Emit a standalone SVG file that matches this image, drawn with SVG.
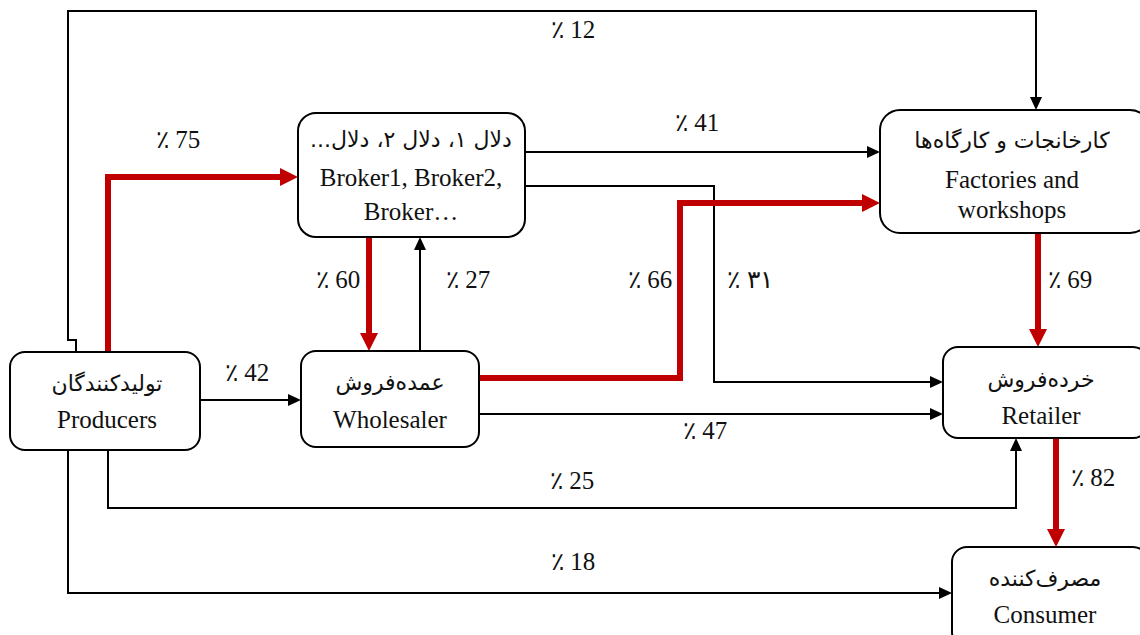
<svg xmlns="http://www.w3.org/2000/svg" width="1140" height="635" viewBox="0 0 1140 635">
<defs>
<style>
.box{fill:#fff;stroke:#000;stroke-width:2}
.fa{font-family:'DejaVu Sans',sans-serif;font-size:22px;fill:#111;text-anchor:middle}
.en{font-family:'Times New Roman','Liberation Serif',Tinos,'Noto Serif','DejaVu Serif',serif;font-size:25px;fill:#111;text-anchor:middle}
.k{fill:none;stroke:#000;stroke-width:2}
.r{fill:none;stroke:#c00000;stroke-width:6}
</style>
<marker id="ak" markerUnits="userSpaceOnUse" markerWidth="13" markerHeight="12" refX="0" refY="6" orient="auto"><path d="M0,0 L13,6 L0,12 z" fill="#000"/></marker>
<marker id="ar" markerUnits="userSpaceOnUse" markerWidth="18" markerHeight="18" refX="0" refY="9" orient="auto"><path d="M0,0 L18,9 L0,18 z" fill="#c00000"/></marker>
</defs>
<g id="connectors">
<path class="k" d="M76,352 V340 H68 V11 H1036 V97" marker-end="url(#ak)"/>
<path class="r" d="M108,352 V177 H280" marker-end="url(#ar)"/>
<path class="r" d="M369,237 V333" marker-end="url(#ar)"/>
<path class="k" d="M420,351 V250" marker-end="url(#ak)"/>
<path class="k" d="M200,400 H288" marker-end="url(#ak)"/>
<path class="k" d="M525,152 H867" marker-end="url(#ak)"/>
<path class="k" d="M525,186 H714 V382 H930" marker-end="url(#ak)"/>
<path class="r" d="M479,378 H680 V203 H862" marker-end="url(#ar)"/>
<path class="k" d="M479,414 H930" marker-end="url(#ak)"/>
<path class="k" d="M108,450 V508 H1016 V451" marker-end="url(#ak)"/>
<path class="k" d="M68,450 V593 H939" marker-end="url(#ak)"/>
<path class="r" d="M1038,233 V329" marker-end="url(#ar)"/>
<path class="r" d="M1056,438 V529" marker-end="url(#ar)"/>
</g>
<g id="labels" direction="ltr">
<text class="en" x="573" y="38">٪ 12</text>
<text class="en" x="178" y="148">٪ 75</text>
<text class="en" x="697" y="131">٪ 41</text>
<text class="en" x="338" y="288">٪ 60</text>
<text class="en" x="468" y="288">٪ 27</text>
<text class="en" x="650" y="288">٪ 66</text>
<text class="en" x="750" y="288">٪ ۳۱</text>
<text class="en" x="1070" y="288">٪ 69</text>
<text class="en" x="247" y="381">٪ 42</text>
<text class="en" x="705" y="439">٪ 47</text>
<text class="en" x="572" y="489">٪ 25</text>
<text class="en" x="1093" y="486">٪ 82</text>
<text class="en" x="573" y="570">٪ 18</text>
</g>
<g id="producers">
<rect class="box" x="10" y="352" width="190" height="98" rx="15"/>
<text class="fa" x="107" y="391" direction="rtl">تولیدکنندگان</text>
<text class="en" x="107" y="428">Producers</text>
</g>
<g id="broker">
<rect class="box" x="298" y="113" width="227" height="124" rx="18"/>
<text class="fa" x="411" y="147" direction="rtl">دلال ۱، دلال ۲، دلال...</text>
<text class="en" x="411" y="186">Broker1, Broker2,</text>
<text class="en" x="411" y="220">Broker…</text>
</g>
<g id="wholesaler">
<rect class="box" x="301" y="351" width="178" height="96" rx="15"/>
<text class="fa" x="390" y="390" direction="rtl">عمده‌فروش</text>
<text class="en" x="390" y="428">Wholesaler</text>
</g>
<g id="factories">
<rect class="box" x="880" y="110" width="270" height="123" rx="20"/>
<text class="fa" x="1012" y="148" direction="rtl">کارخانجات و کارگاه‌ها</text>
<text class="en" x="1012" y="188">Factories and</text>
<text class="en" x="1012" y="218">workshops</text>
</g>
<g id="retailer">
<rect class="box" x="943" y="347" width="205" height="91" rx="15"/>
<text class="fa" x="1041" y="387" direction="rtl">خرده‌فروش</text>
<text class="en" x="1041" y="424">Retailer</text>
</g>
<g id="consumer">
<rect class="box" x="952" y="547" width="196" height="100" rx="15"/>
<text class="fa" x="1045" y="586" direction="rtl">مصرف‌کننده</text>
<text class="en" x="1045" y="623">Consumer</text>
</g>
</svg>
